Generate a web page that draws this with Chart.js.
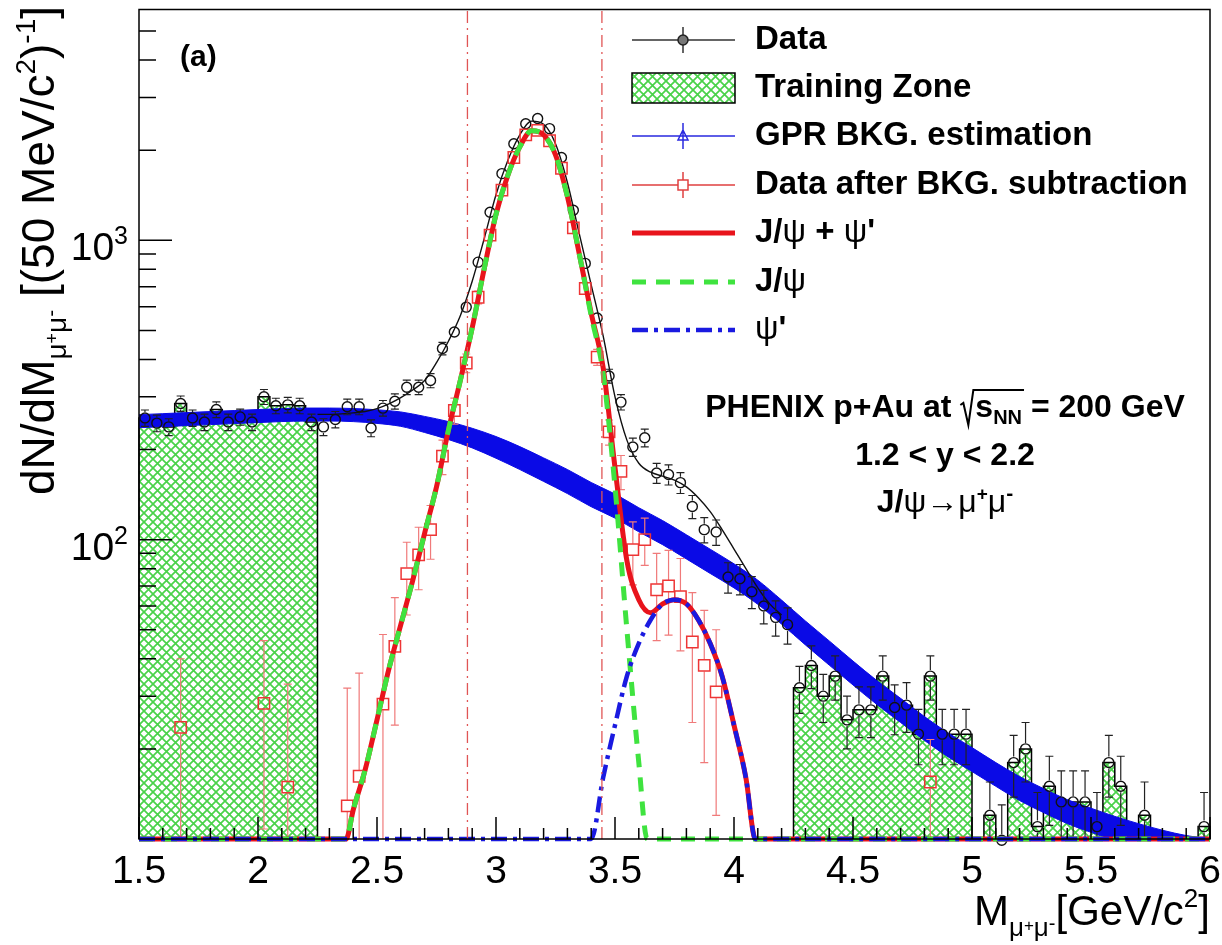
<!DOCTYPE html>
<html>
<head>
<meta charset="utf-8">
<script src="https://cdn.jsdelivr.net/npm/chart.js@4.4.0/dist/chart.umd.min.js"></script>
<style>
  html, body { margin: 0; padding: 0; background: #fff; }
  #wrap { width: 1222px; height: 945px; position: relative; }
</style>
</head>
<body>
<div id="wrap"><canvas id="massChart"></canvas></div>
<script>
// binning of the data histogram (50 MeV bins from 1.5 to 6 GeV)
const binLow = 1.5;
const binWidth = 0.05;

// black circles: raw data, one value per bin (null = empty bin)
const dataCounts = [
  255, 245, 238, 285, 255, 247, 272, 247, 257, 247,
  300, 280, 282, 280, 247, 238, 252, 278, 278, 236,
  275, 290, 323, 323, 340, 435, 494, 598, 845, 1240,
  1670, 2100, 2450, 2550, 2360, 1890, 1260, 837, 550, 352,
  288, 204, 219, 167, 165, 155, 129, 108, 106, 75,
  74, 67, 60, 55, 52, 32, 38, 30, 35, 25,
  27, 27, 35, 27.5, 28, 22.4, 35, 22.4, 22.4, 22.4,
  null, 12, 9.9, 18, 20, 11, 15, 13.3, 13.3, 13.3,
  11, 18, 15, null, 12, null, null, null, null, 11
];
const dataErr = [
  16, 15.7, 15.4, 16.9, 16, 15.7, 16.5, 15.7, 16, 15.7,
  17.3, 16.7, 16.8, 16.7, 15.7, 15.4, 15.9, 16.7, 16.7, 15.4,
  16.6, 17, 18, 18, 18.4, 20.9, 22.2, 24.5, 29, 35.2,
  40.9, 45.8, 49.5, 50.5, 48.6, 43.5, 35.5, 28.9, 23.5, 18.8,
  17, 14.3, 14.8, 12.9, 12.8, 12.4, 11.4, 10.4, 10.3, 8.7,
  8.6, 8.2, 7.7, 7.4, 7.2, 5.7, 6.2, 5.5, 5.9, 5,
  5.2, 5.2, 5.9, 5.2, 5.3, 4.7, 5.9, 4.7, 4.7, 4.7,
  0, 3.5, 3.1, 4.2, 4.5, 3.3, 3.9, 3.6, 3.6, 3.6,
  3.3, 4.2, 3.9, 0, 3.5, 0, 0, 0, 0, 3.3
];

// red squares: data after background subtraction
const subMass = [1.675, 2.025, 2.125, 2.375, 2.425, 2.525, 2.575, 2.625, 2.675, 2.725,
  2.775, 2.825, 2.875, 2.925, 2.975, 3.025, 3.075, 3.125, 3.175, 3.225,
  3.275, 3.325, 3.375, 3.425, 3.475, 3.525, 3.575, 3.625, 3.675, 3.725,
  3.775, 3.825, 3.875, 3.925, 4.825];
const subCounts = [23.6, 28.4, 14.9, 12.9, 16.2, 28.2, 44, 77, 89, 108,
  190, 270, 389, 645, 1040, 1470, 1890, 2250, 2330, 2150,
  1740, 1100, 690, 407, 229, 169, 92.6, 100, 68, 70,
  64.5, 45.5, 38, 31, 15.5];
const subErr = [16.4, 17.6, 18, 19, 19.6, 20, 20, 21, 21, 22,
  25, 27, 28, 32, 37, 42, 46, 50, 51, 49,
  45, 37, 31, 25, 22, 22, 22, 18, 22, 22,
  22, 21, 20, 19, 6];

// GPR background estimate (mean and 1 sigma)
const gprMass = [1.5, 1.6, 1.7, 1.8, 1.9, 2.0, 2.1, 2.2, 2.3, 2.4,
  2.5, 2.6, 2.7, 2.8, 2.9, 3.0, 3.1, 3.2, 3.3, 3.4,
  3.5, 3.6, 3.7, 3.8, 3.9, 4.0, 4.1, 4.2, 4.3, 4.4,
  4.5, 4.6, 4.7, 4.8, 4.9, 5.0, 5.1, 5.2, 5.3, 5.4,
  5.5, 5.6, 5.7, 5.8, 5.9, 6.0];
const gprMean = [249, 251, 253, 255, 257, 259, 261, 262, 262, 261,
  258, 253, 243, 232, 219, 204, 188, 172, 157, 142,
  130, 117, 106, 95, 85, 76, 67, 57.5, 49, 42,
  36, 31, 27, 23.5, 20.7, 18.5, 16.5, 14.8, 13.5, 12.4,
  11.6, 10.9, 10.3, 9.8, 9.4, 9.0];
const gprErr = [12.5, 12.5, 12.7, 12.8, 12.9, 13, 13, 13.1, 13.1, 13.1,
  13.5, 14, 15, 16, 16.5, 17, 16.5, 15.5, 14.5, 13.2,
  12, 10.8, 9.8, 8.8, 7.9, 7.0, 6.2, 5.3, 4.5, 3.9,
  3.3, 2.85, 2.5, 2.15, 1.9, 1.7, 1.5, 1.36, 1.24, 1.14,
  1.07, 1.0, 0.95, 0.9, 0.87, 0.83];

// thin black line: signal + background fit
const fitMass = [2.25, 2.30, 2.35, 2.40, 2.45, 2.50, 2.55, 2.60, 2.65, 2.70,
  2.75, 2.80, 2.85, 2.90, 2.95, 3.00, 3.05, 3.10, 3.15, 3.20,
  3.25, 3.30, 3.35, 3.40, 3.45, 3.50, 3.55, 3.60, 3.65, 3.70,
  3.75, 3.80, 3.85, 3.90, 3.95, 4.00, 4.05, 4.10, 4.15, 4.20];
const fitTotal = [262, 262, 263, 265, 268, 274, 284, 298, 316, 340,
  390, 460, 560, 730, 1010, 1420, 1850, 2250, 2500, 2440,
  2100, 1560, 1050, 710, 480, 300, 215, 180, 168, 163,
  158, 150, 138, 124, 108, 93, 80, 69, 61, 56];

// signal shapes
const sumMass = [1.5, 2.37, 2.40, 2.45, 2.50, 2.55, 2.60, 2.65, 2.70, 2.75,
  2.80, 2.85, 2.90, 2.95, 3.00, 3.05, 3.10, 3.15, 3.20, 3.25,
  3.30, 3.35, 3.40, 3.45, 3.50, 3.55, 3.60, 3.65, 3.70, 3.75,
  3.80, 3.85, 3.90, 3.95, 4.00, 4.05, 4.09, 6.0];
const sumVal = [0, 10, 12.5, 17, 25, 37, 52, 73, 105, 150,
  232, 340, 510, 800, 1220, 1650, 2050, 2320, 2250, 1930,
  1400, 900, 570, 376, 174, 85, 63, 57, 61, 63,
  61, 54, 45, 35, 24, 16, 10, 0];
const jpsiMass = [1.5, 2.37, 2.40, 2.45, 2.50, 2.55, 2.60, 2.65, 2.70, 2.75,
  2.80, 2.85, 2.90, 2.95, 3.00, 3.05, 3.10, 3.15, 3.20, 3.25,
  3.30, 3.35, 3.40, 3.45, 3.50, 3.55, 3.60, 3.635, 6.0];
const jpsiVal = [0, 10, 12.5, 17, 25, 37, 52, 73, 105, 150,
  232, 340, 510, 800, 1220, 1650, 2050, 2320, 2250, 1930,
  1400, 900, 560, 360, 150, 50, 18, 10, 0];
const psi2Mass = [1.5, 3.40, 3.45, 3.50, 3.55, 3.60, 3.65, 3.70, 3.75, 3.80,
  3.85, 3.90, 3.95, 4.00, 4.05, 4.09, 6.0];
const psi2Val = [0, 10, 16, 24, 35, 45, 54, 61, 63, 61,
  54, 45, 35, 24, 16, 10, 0];

const trainZones = [[1.5, 2.25], [4.25, 6.0]];
const windowEdges = [2.88, 3.445];

const xTickLabels = ['1.5', '2', '2.5', '3', '3.5', '4', '4.5', '5', '5.5', '6'];
const yTickLabels = [[100, '2'], [1000, '3']];

const Y_MIN = 10, Y_MAX = 5900;
const FONT = '"Liberation Sans", Arial, Helvetica, sans-serif';
const F = (size, bold) => (bold ? 'bold ' : '') + size + 'px ' + FONT;
const clampY = v => Math.max(v || 0, Y_MIN);

const canvas = document.getElementById('massChart');
const ctx = canvas.getContext('2d');

function makeHatch() {
  const c = document.createElement('canvas');
  c.width = 9; c.height = 9;
  const g = c.getContext('2d');
  g.fillStyle = '#fff';
  g.fillRect(0, 0, 9, 9);
  g.strokeStyle = '#4ad24a';
  g.lineWidth = 1.7;
  g.beginPath();
  g.moveTo(-1, -1); g.lineTo(10, 10);
  g.moveTo(-1, 10); g.lineTo(10, -1);
  g.stroke();
  return ctx.createPattern(c, 'repeat');
}
const hatch = makeHatch();

function zoneSteps(lo, hi) {
  const pts = [{ x: lo, y: Y_MIN }];
  dataCounts.forEach((v, i) => {
    const a = binLow + i * binWidth, b = a + binWidth;
    if (a < lo - 1e-9 || b > hi + 1e-9) return;
    pts.push({ x: a, y: clampY(v) }, { x: b, y: clampY(v) });
  });
  pts.push({ x: hi, y: Y_MIN });
  return pts;
}

const pairs = (xs, ys) => xs.map((x, i) => ({ x: x, y: clampY(ys[i]) }));

const datasets = [];
trainZones.forEach(z => datasets.push({
  data: zoneSteps(z[0], z[1]), borderColor: '#000', borderWidth: 1.5,
  backgroundColor: hatch, fill: 'start', pointRadius: 0, order: 20, clip: false
}));
datasets.push({
  data: gprMass.map((x, i) => ({ x: x, y: clampY(gprMean[i] + gprErr[i]) })),
  borderColor: '#0a0ae6', borderWidth: 1, backgroundColor: '#0a0ae6',
  fill: '+1', pointRadius: 0, order: 15, clip: false, cubicInterpolationMode: 'monotone'
});
datasets.push({
  data: gprMass.map((x, i) => ({ x: x, y: clampY(gprMean[i] - gprErr[i]) })),
  borderColor: '#0a0ae6', borderWidth: 1, fill: false, pointRadius: 0, order: 14, clip: false,
  cubicInterpolationMode: 'monotone'
});
datasets.push({
  data: pairs(fitMass, fitTotal), borderColor: '#111', borderWidth: 1.4,
  fill: false, pointRadius: 0, order: 12, cubicInterpolationMode: 'monotone'
});
datasets.push({
  data: dataCounts.map((v, i) => ({ x: binLow + (i + 0.5) * binWidth, y: v })),
  showLine: false, pointStyle: 'circle', pointRadius: 5, pointBorderWidth: 1.4,
  pointBorderColor: '#111', pointBackgroundColor: 'rgba(0,0,0,0)',
  errs: dataErr, errColor: '#222', errGap: 6, order: 11, clip: false
});
datasets.push({
  data: subMass.map((x, i) => ({ x: x, y: subCounts[i] })),
  showLine: false, pointStyle: 'rect', pointRadius: 8, pointBorderWidth: 1.5,
  pointBorderColor: '#ee3535', pointBackgroundColor: 'rgba(0,0,0,0)',
  errs: subErr, errColor: '#f07a7a', errGap: 6, order: 10, clip: false
});
datasets.push({
  data: pairs(sumMass, sumVal), borderColor: '#e8141c', borderWidth: 5,
  fill: false, pointRadius: 0, order: 8, clip: false, cubicInterpolationMode: 'monotone'
});
datasets.push({
  data: pairs(jpsiMass, jpsiVal), borderColor: '#3fe33f', borderWidth: 5,
  borderDash: [14, 10], fill: false, pointRadius: 0, order: 7, clip: false,
  cubicInterpolationMode: 'monotone'
});
datasets.push({
  data: pairs(psi2Mass, psi2Val), borderColor: '#1a1ae0', borderWidth: 4.5,
  borderDash: [16, 6, 4, 6], fill: false, pointRadius: 0, order: 6, clip: false,
  cubicInterpolationMode: 'monotone'
});
windowEdges.forEach(m => datasets.push({
  data: [{ x: m, y: Y_MIN }, { x: m, y: Y_MAX }], borderColor: '#e05555',
  borderWidth: 1.3, borderDash: [12, 5, 2, 5], fill: false, pointRadius: 0, order: 2
}));

// vertical error bars with caps, leaving a gap for the marker
const errorBars = {
  id: 'errorBars',
  beforeDatasetDraw(chart, args) {
    const ds = chart.data.datasets[args.index];
    if (!ds.errs) return;
    const ys = chart.scales.y, c = chart.ctx, bottom = chart.chartArea.bottom;
    c.save();
    c.strokeStyle = ds.errColor;
    c.lineWidth = 1.2;
    args.meta.data.forEach((pt, i) => {
      const raw = ds.data[i];
      if (raw.y == null || !ds.errs[i]) return;
      const v = raw.y, e = ds.errs[i];
      const yc = ys.getPixelForValue(Math.max(v, 1e-3));
      const yt = ys.getPixelForValue(v + e);
      const lowOk = v - e > Y_MIN;
      const yb = lowOk ? ys.getPixelForValue(v - e) : bottom;
      const g = ds.errGap;
      c.beginPath();
      if (yc - g > yt) {
        c.moveTo(pt.x, yc - g); c.lineTo(pt.x, yt);
        c.moveTo(pt.x - 4, yt); c.lineTo(pt.x + 4, yt);
      }
      if (yc + g < yb) {
        c.moveTo(pt.x, yc + g); c.lineTo(pt.x, yb);
        if (lowOk) { c.moveTo(pt.x - 4, yb); c.lineTo(pt.x + 4, yb); }
      }
      c.stroke();
    });
    c.restore();
  }
};

function drawRuns(c, runs, x, y, align) {
  let w = 0;
  runs.forEach(r => { c.font = r.f; w += c.measureText(r.t).width; });
  let cx = align === 'right' ? x - w : align === 'center' ? x - w / 2 : x;
  const start = cx;
  runs.forEach(r => {
    c.font = r.f;
    c.fillText(r.t, cx, y + (r.dy || 0));
    cx += c.measureText(r.t).width;
  });
  return [start, cx];
}

const frameAndText = {
  id: 'frameAndText',
  afterDraw(chart) {
    const c = chart.ctx, a = chart.chartArea, xs = chart.scales.x, ys = chart.scales.y;
    c.save();
    c.strokeStyle = '#000';
    c.fillStyle = '#000';
    c.lineWidth = 1.5;
    c.strokeRect(a.left, a.top, a.right - a.left, a.bottom - a.top);

    // x ticks every 0.1, major every 0.5
    c.beginPath();
    for (let k = 15; k <= 60; k++) {
      const px = xs.getPixelForValue(k / 10);
      const len = k % 5 === 0 ? 22 : 11;
      c.moveTo(px, a.bottom); c.lineTo(px, a.bottom - len);
    }
    // log y ticks
    [10, 100, 1000].forEach(d => {
      for (let m = 1; m <= 9; m++) {
        const v = m * d;
        if (v <= Y_MIN || v > Y_MAX) continue;
        const py = ys.getPixelForValue(v);
        c.moveTo(a.left, py); c.lineTo(a.left + (m === 1 ? 33 : 17), py);
      }
    });
    c.stroke();

    c.textBaseline = 'alphabetic';
    c.textAlign = 'center';
    c.font = F(39);
    xTickLabels.forEach(t => c.fillText(t, xs.getPixelForValue(parseFloat(t)), 883));
    c.textAlign = 'left';
    yTickLabels.forEach(([v, p]) => {
      const py = ys.getPixelForValue(v);
      drawRuns(c, [{ t: '10', f: F(39) }, { t: p, f: F(25), dy: -16 }], 128, py + 20, 'right');
    });

    // axis titles
    drawRuns(c, [
      { t: 'M', f: F(42) }, { t: '\u03bc', f: F(26), dy: 11 }, { t: '+', f: F(17), dy: 6 },
      { t: '\u03bc', f: F(26), dy: 11 }, { t: '-', f: F(20), dy: 5 },
      { t: '[GeV/c', f: F(42) }, { t: '2', f: F(26), dy: -18 }, { t: ']', f: F(42) }
    ], 1210, 925, 'right');

    c.save();
    c.translate(54, 6);
    c.rotate(-Math.PI / 2);
    drawRuns(c, [
      { t: 'dN/dM', f: F(46) }, { t: '\u03bc', f: F(28), dy: 12 }, { t: '+', f: F(18), dy: 4 },
      { t: '\u03bc', f: F(28), dy: 12 }, { t: '-', f: F(21), dy: 4 },
      { t: ' [(50 MeV/c', f: F(46) }, { t: '2', f: F(28), dy: -19 }, { t: ')', f: F(46) },
      { t: '-1', f: F(28), dy: -19 }, { t: ']', f: F(46) }
    ], 0, 0, 'right');
    c.restore();

    // panel tag
    c.font = F(30, true);
    c.fillText('(a)', 180, 66);

    // legend
    const rows = [40, 88, 136, 185, 233, 282, 330];
    const lx0 = 632, lx1 = 735, lxm = 683, tx = 755;
    c.lineWidth = 1.5;
    c.strokeStyle = '#333';
    c.beginPath(); c.moveTo(lx0, rows[0]); c.lineTo(lx1, rows[0]);
    c.moveTo(lxm, rows[0] - 13); c.lineTo(lxm, rows[0] + 13); c.stroke();
    c.fillStyle = '#777';
    c.beginPath(); c.arc(lxm, rows[0], 5, 0, 2 * Math.PI); c.fill();
    c.strokeStyle = '#222'; c.stroke();

    c.fillStyle = hatch;
    c.fillRect(lx0, rows[1] - 15, lx1 - lx0, 30);
    c.strokeStyle = '#000';
    c.strokeRect(lx0, rows[1] - 15, lx1 - lx0, 30);

    c.strokeStyle = '#2a2ae0';
    c.beginPath(); c.moveTo(lx0, rows[2]); c.lineTo(lx1, rows[2]);
    c.moveTo(lxm, rows[2] - 13); c.lineTo(lxm, rows[2] + 13);
    c.moveTo(lxm, rows[2] - 6); c.lineTo(lxm + 5, rows[2] + 4); c.lineTo(lxm - 5, rows[2] + 4); c.closePath();
    c.stroke();

    c.strokeStyle = '#e04040';
    c.beginPath(); c.moveTo(lx0, rows[3]); c.lineTo(lx1, rows[3]);
    c.moveTo(lxm, rows[3] - 13); c.lineTo(lxm, rows[3] + 13); c.stroke();
    c.fillStyle = '#fff';
    c.fillRect(lxm - 5, rows[3] - 5, 10, 10);
    c.strokeRect(lxm - 5, rows[3] - 5, 10, 10);

    c.lineWidth = 5; c.strokeStyle = '#e8141c';
    c.beginPath(); c.moveTo(lx0, rows[4]); c.lineTo(lx1, rows[4]); c.stroke();
    c.strokeStyle = '#3fe33f'; c.setLineDash([14, 10]);
    c.beginPath(); c.moveTo(lx0, rows[5]); c.lineTo(lx1, rows[5]); c.stroke();
    c.lineWidth = 4.5; c.strokeStyle = '#1a1ae0'; c.setLineDash([16, 6, 4, 6]);
    c.beginPath(); c.moveTo(lx0, rows[6]); c.lineTo(lx1, rows[6]); c.stroke();
    c.setLineDash([]);

    c.fillStyle = '#000';
    c.textBaseline = 'middle';
    const B = F(33, true), N = F(33);
    const texts = [
      [{ t: 'Data', f: B }],
      [{ t: 'Training Zone', f: B }],
      [{ t: 'GPR BKG. estimation', f: B }],
      [{ t: 'Data after BKG. subtraction', f: B }],
      [{ t: 'J/', f: B }, { t: '\u03c8', f: N }, { t: ' + ', f: B }, { t: '\u03c8', f: N }, { t: "'", f: B }],
      [{ t: 'J/', f: B }, { t: '\u03c8', f: N }],
      [{ t: '\u03c8', f: N }, { t: "'", f: B }]
    ];
    texts.forEach((r, i) => drawRuns(c, r, tx, rows[i], 'left'));

    // annotation
    c.textBaseline = 'alphabetic';
    const A = F(32, true), AN = F(32);
    c.font = A;
    const w1 = c.measureText('PHENIX p+Au at ').width;
    c.font = A; const ws = c.measureText('s').width;
    c.font = F(20, true); const wn = c.measureText('NN').width;
    c.font = A; const we = c.measureText(' = 200 GeV').width;
    const total = w1 + 15 + ws + wn + we;
    let x = 945 - total / 2;
    const by = 417;
    c.font = A; c.fillText('PHENIX p+Au at ', x, by); x += w1;
    c.lineWidth = 2; c.strokeStyle = '#000';
    c.beginPath();
    c.moveTo(x, by - 12); c.lineTo(x + 3, by - 14); c.lineTo(x + 8, by + 8); c.lineTo(x + 13, by - 27);
    c.lineTo(x + 15 + ws + wn + 2, by - 27);
    c.stroke();
    x += 15;
    c.font = A; c.fillText('s', x, by); x += ws;
    c.font = F(20, true); c.fillText('NN', x, by + 7); x += wn;
    c.font = A; c.fillText(' = 200 GeV', x, by);

    c.textAlign = 'left';
    drawRuns(c, [{ t: '1.2 < y < 2.2', f: A }], 945, 465, 'center');
    drawRuns(c, [
      { t: 'J/', f: A }, { t: '\u03c8\u2192\u03bc', f: AN }, { t: '+', f: F(19, true), dy: -12 },
      { t: '\u03bc', f: AN }, { t: '-', f: F(21, true), dy: -12 }
    ], 945, 512, 'center');
    c.restore();
  }
};

new Chart(ctx, {
  type: 'line',
  data: { datasets: datasets },
  options: {
    responsive: true,
    maintainAspectRatio: false,
    animation: false,
    layout: { padding: { left: 139, top: 9, right: 12, bottom: 106 } },
    scales: {
      x: { type: 'linear', min: 1.5, max: 6, display: false },
      y: { type: 'logarithmic', min: Y_MIN, max: Y_MAX, display: false }
    },
    elements: { line: { tension: 0 } },
    plugins: { legend: { display: false }, tooltip: { enabled: false } }
  },
  plugins: [errorBars, frameAndText]
});
</script>
</body>
</html>
